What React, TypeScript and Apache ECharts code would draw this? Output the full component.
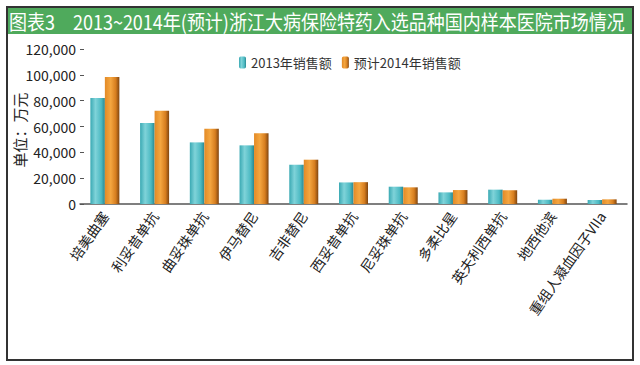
import React, { useEffect, useRef } from "react";
import * as echarts from "echarts";

const categories = ["培美曲塞", "利妥昔单抗", "曲妥珠单抗", "伊马替尼", "吉非替尼", "西妥昔单抗", "尼妥珠单抗", "多柔比星", "英夫利西单抗", "地西他滨", "重组人凝血因子VIIa"];
const sales2013 = [82000, 62700, 47700, 45400, 30400, 16700, 13400, 9000, 11100, 3300, 3100];
const sales2014 = [98300, 72200, 58300, 54700, 34300, 16900, 12900, 10800, 10600, 4100, 3600];
const seriesNames = ["2013年销售额", "预计2014年销售额"];
const titleText = "图表3　2013~2014年(预计)浙江大病保险特药入选品种国内样本医院市场情况";
const yAxisTitle = "单位：万元";

const cyan = new echarts.graphic.LinearGradient(0, 0, 1, 0, [
  { offset: 0, color: "#3aa9b3" },
  { offset: 0.35, color: "#7fd3d9" },
  { offset: 0.75, color: "#4dbac3" },
  { offset: 1, color: "#2a8790" },
]);
const orange = new echarts.graphic.LinearGradient(0, 0, 1, 0, [
  { offset: 0, color: "#e38a26" },
  { offset: 0.4, color: "#f4a640" },
  { offset: 0.75, color: "#d77e1f" },
  { offset: 1, color: "#7f4510" },
]);

export default function App() {
  const ref = useRef<HTMLDivElement>(null);
  useEffect(() => {
    const chart = echarts.init(ref.current!, null, { renderer: "svg" });
    chart.setOption({
      animation: false,
      backgroundColor: "#ffffff",
      textStyle: { fontFamily: "Noto Sans CJK SC" },
      graphic: [
        {
          type: "rect",
          shape: { x: 7, y: 7, width: 626, height: 353 },
          style: { fill: "none", stroke: "#333", lineWidth: 2 },
          z: 100,
        },
        {
          type: "rect",
          shape: { x: 7, y: 7, width: 626, height: 27 },
          style: { fill: "#4faa5c" },
        },
        {
          type: "text",
          x: 9,
          y: 21,
          scaleX: 0.9,
          style: {
            text: titleText,
            fill: "#ffffff",
            font: "20px 'Noto Sans CJK SC'",
            verticalAlign: "middle",
          },
        },
        {
          type: "text",
          x: 19,
          y: 130,
          rotation: Math.PI / 2,
          style: {
            text: yAxisTitle,
            fill: "#222",
            font: "15px 'Noto Sans CJK SC'",
            align: "center",
            verticalAlign: "middle",
          },
        },
      ],
      legend: {
        top: 51,
        left: 234,
        itemWidth: 7,
        itemHeight: 12,
        itemGap: 10,
        data: seriesNames,
        textStyle: { fontSize: 13, color: "#333", fontFamily: "Noto Sans CJK SC" },
      },
      grid: { left: 80, right: 13, top: 49, bottom: 161, outerBoundsMode: "none", containLabel: false },
      xAxis: {
        type: "category",
        data: categories,
        axisLine: { lineStyle: { color: "#555", width: 1.5 } },
        axisTick: { show: false },
        axisLabel: { rotate: 55, fontSize: 14, color: "#222", interval: 0, margin: 9 },
      },
      yAxis: {
        type: "value",
        min: 0,
        max: 120000,
        interval: 20000,
        axisLine: { show: false },
        axisTick: { show: true, length: 4, inside: true, lineStyle: { color: "#555" } },
        splitLine: { show: false },
        axisLabel: {
          fontSize: 14,
          color: "#222",
          margin: 4,
          formatter: (v: number) => v.toLocaleString("en-US"),
        },
      },
      series: [
        {
          name: seriesNames[0],
          type: "bar",
          data: sales2013,
          barWidth: 14.5,
          barGap: "0%",
          itemStyle: { color: cyan },
        },
        {
          name: seriesNames[1],
          type: "bar",
          data: sales2014,
          barWidth: 14.5,
          barGap: "0%",
          itemStyle: { color: orange },
        },
      ],
    });
    return () => chart.dispose();
  }, []);
  return <div ref={ref} style={{ width: 640, height: 365, position: "absolute", left: 0, top: 0 }} />;
}
